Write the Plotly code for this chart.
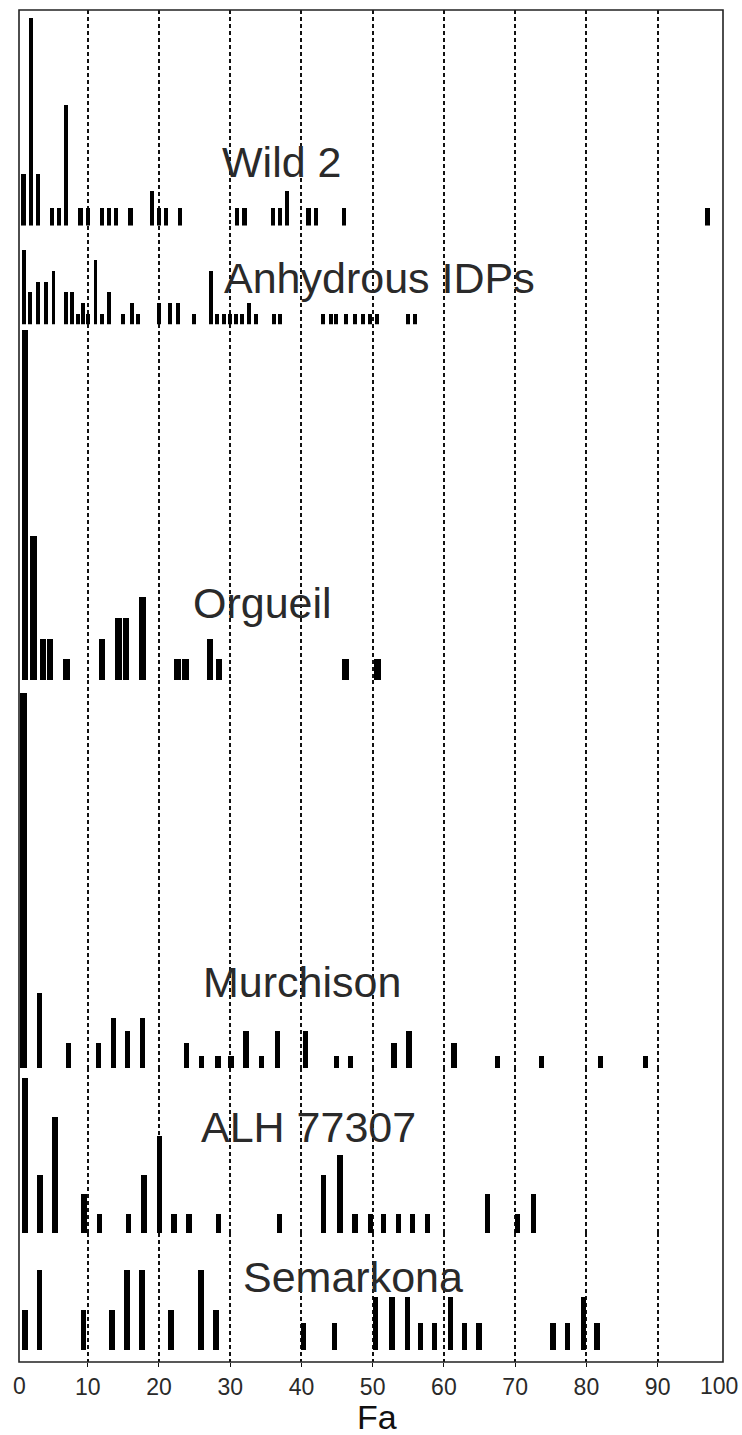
import plotly.graph_objects as go
from plotly.subplots import make_subplots

# Fayalite (Fa) histograms of olivine: bin position and number of grains
wild2_fa = [1, 2, 3, 5, 6, 7, 9, 10, 12, 13, 14, 16, 19, 20, 21, 23, 31, 32, 36, 37, 38, 41, 42, 46, 97]
wild2_n = [3, 12, 3, 1, 1, 7, 1, 1, 1, 1, 1, 1, 2, 1, 1, 1, 1, 1, 1, 1, 2, 1, 1, 1, 1]

idp_fa = [1.1, 1.9, 3.05, 4.1, 5.2, 6.9, 7.8, 8.6, 9.4, 10.1, 11.1, 12.0, 13.0, 15.0, 16.2, 17.1,
          20.0, 21.6, 22.7, 24.9, 27.3, 28.1, 29.1, 30.0, 30.8, 31.7, 32.7, 33.6, 36.2, 37.0,
          43.0, 44.2, 44.9, 46.3, 47.5, 48.6, 49.6, 50.6, 55.0, 56.0]
idp_n = [7, 3, 4, 4, 5, 3, 3, 1, 2, 1, 6, 1, 3, 1, 2, 1,
         2, 2, 2, 1, 5, 1, 1, 1, 1, 1, 2, 1, 1, 1,
         1, 1, 1, 1, 1, 1, 1, 1, 1, 1]

orgueil_fa = [1.2, 2.4, 3.7, 4.7, 7.0, 12.0, 14.3, 15.4, 17.7, 22.6, 23.7, 27.2, 28.4, 46.2, 50.7]
orgueil_n = [17, 7, 2, 2, 1, 2, 3, 3, 4, 1, 1, 2, 1, 1, 1]

murchison_fa = [1.0, 3.2, 7.3, 11.5, 13.6, 15.6, 17.7, 23.9, 26.0, 28.3, 30.1, 32.2, 34.4, 36.6,
                40.6, 44.9, 46.9, 53.0, 55.1, 61.4, 67.5, 73.7, 82.0, 88.3]
murchison_n = [30, 6, 2, 2, 4, 3, 4, 2, 1, 1, 1, 3, 1, 3,
               3, 1, 1, 2, 3, 2, 1, 1, 1, 1]

alh_fa = [1.2, 3.3, 5.4, 9.5, 11.7, 15.7, 17.9, 20.1, 22.1, 24.2, 28.4, 36.9, 43.1, 45.4, 47.5,
          49.7, 51.5, 53.6, 55.6, 57.7, 66.1, 70.3, 72.6]
alh_n = [8, 3, 6, 2, 1, 1, 3, 5, 1, 1, 1, 1, 3, 4, 1,
         1, 1, 1, 1, 1, 2, 1, 2]

semarkona_fa = [1.2, 3.2, 9.4, 13.4, 15.5, 17.6, 21.7, 25.9, 28.0, 40.3, 44.6, 50.4, 52.7, 54.9,
                56.7, 58.7, 60.9, 62.9, 64.9, 75.3, 77.3, 79.6, 81.5]
semarkona_n = [3, 6, 3, 3, 6, 6, 3, 6, 3, 2, 2, 4, 4, 4,
               2, 2, 4, 2, 2, 2, 2, 4, 2]

sample_names = ["Wild 2", "Anhydrous IDPs", "Orgueil", "Murchison", "ALH 77307", "Semarkona"]
fa_ticks = [10, 20, 30, 40, 50, 60, 70, 80, 90]

series = [
    (wild2_fa, wild2_n),
    (idp_fa, idp_n),
    (orgueil_fa, orgueil_n),
    (murchison_fa, murchison_n),
    (alh_fa, alh_n),
    (semarkona_fa, semarkona_n),
]

# ---- layout / styling ----
W, H = 742, 1435
ML, MR, MT, MB = 19, 19, 10, 73
plot_w = W - ML - MR
plot_h = H - MT - MB

row_heights = [215.7, 98.6, 355.7, 388.3, 165.0, 128.7]
y_ranges = [[0, 12.47], [0, 9.21], [0, 17.27], [0, 31.06], [0, 8.51], [-0.91, 8.84]]
bar_widths = [0.6, 0.55, 0.9, 0.75, 0.75, 0.75]
x_range = [0.36, 99.17]

# label placements in pixels (centre x, centre y)
label_px = [(281.5, 162), (379.7, 278.3), (262.5, 603), (301.7, 981.7), (308.3, 1126.7), (352.5, 1276.7)]

fig = make_subplots(rows=6, cols=1, shared_xaxes=True, vertical_spacing=0,
                    row_heights=row_heights)

for i, (fa, n) in enumerate(series):
    widths = [bar_widths[i]] * len(fa)
    if i == 3:
        widths[0] = 1.1
    fig.add_trace(
        go.Bar(x=fa, y=n, width=widths, marker=dict(color="black", line=dict(width=0)),
               name=sample_names[i], showlegend=False),
        row=i + 1, col=1,
    )
    fig.update_yaxes(range=y_ranges[i], visible=False, showgrid=False, zeroline=False,
                     fixedrange=True, row=i + 1, col=1)

sans = "Liberation Sans, Arial, sans-serif"

fig.update_xaxes(range=x_range, tickvals=fa_ticks, showgrid=True, gridcolor="#111",
                 gridwidth=1.5, griddash="4px,3px", zeroline=False, showline=False,
                 ticks="", showticklabels=False)
fig.update_xaxes(showticklabels=True, ticks="outside", ticklen=4, tickcolor="#111",
                 tickwidth=1, tickfont=dict(family=sans, size=23, color="#2a2a2a"),
                 row=6, col=1)


def to_paper(px, py):
    return (px - ML) / plot_w, (MT + plot_h - py) / plot_h


annotations = []
for name, (px, py) in zip(sample_names, label_px):
    xp, yp = to_paper(px, py)
    annotations.append(dict(text=name, x=xp, y=yp, xref="paper", yref="paper",
                            xanchor="center", yanchor="middle", showarrow=False,
                            font=dict(family=sans, size=43, color="#2a2a2a")))

# end labels of the Fa scale
for txt, px in [("0", 19), ("100", 719)]:
    xp, yp = to_paper(px, 1386)
    annotations.append(dict(text=txt, x=xp, y=yp, xref="paper", yref="paper",
                            xanchor="center", yanchor="middle", showarrow=False,
                            font=dict(family=sans, size=23, color="#2a2a2a")))

xp, yp = to_paper(377, 1417)
annotations.append(dict(text="Fa", x=xp, y=yp, xref="paper", yref="paper",
                        xanchor="center", yanchor="middle", showarrow=False,
                        font=dict(family=sans, size=34, color="#111")))

fig.update_layout(
    width=W, height=H, autosize=False,
    margin=dict(l=ML, r=MR, t=MT, b=MB, pad=0),
    paper_bgcolor="white", plot_bgcolor="white",
    bargap=0, barmode="overlay",
    annotations=annotations,
    shapes=[dict(type="rect", xref="paper", yref="paper", x0=0, x1=1, y0=0, y1=1,
                 line=dict(color="#222", width=1.6), layer="above")],
)

fig.write_html("out.html")
